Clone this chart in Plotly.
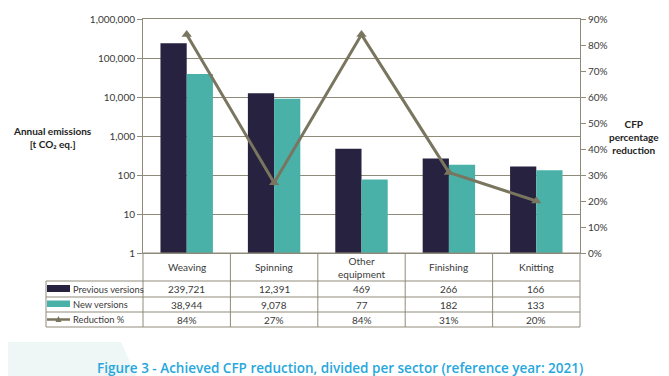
import plotly.graph_objects as go

categories = ["Weaving", "Spinning", "Other<br>equipment", "Finishing", "Knitting"]
previous_versions = [239721, 12391, 469, 266, 166]
new_versions = [38944, 9078, 77, 182, 133]
reduction_pct = [0.84, 0.27, 0.84, 0.31, 0.20]
left_ticks = [1, 10, 100, 1000, 10000, 100000, 1000000]
series_names = ["Previous versions", "New versions", "Reduction %"]

# page body has an 8px default margin; coordinates below are window pixels
OFF = 8
WIN_W, WIN_H = 669, 376
W, H = WIN_W - OFF, WIN_H - OFF
L, R, T, B = 143, 580, 19, 253
PW, PH = R - L, B - T

def px(x):
    return (x - L) / PW

def py(y):
    return (B - y) / PH

DARK = "#26223f"
TEAL = "#4ab1a9"
LINEC = "#79755f"
GRID = "#8f8b7b"
TXT = "#3a3a3a"
FONT = "Lato, Carlito, Calibri, sans-serif"

fig = go.Figure()
fig.add_trace(go.Bar(x=categories, y=previous_versions, name=series_names[0],
                     marker=dict(color=DARK, line=dict(width=0))))
fig.add_trace(go.Bar(x=categories, y=new_versions, name=series_names[1],
                     marker=dict(color=TEAL, line=dict(width=0))))
fig.add_trace(go.Scatter(x=categories, y=reduction_pct, name=series_names[2], yaxis="y2",
                         mode="lines+markers",
                         line=dict(color=LINEC, width=3),
                         marker=dict(symbol="triangle-up", size=9, color=LINEC)))

shapes = []
annotations = []

def label(x, y, text, size=10, color=TXT, xanchor="center", family=FONT, weight=None):
    f = dict(family=family, size=size, color=color)
    if weight:
        f["weight"] = weight
    annotations.append(dict(x=px(x), y=py(y), xref="paper", yref="paper", text=text,
                            showarrow=False, xanchor=xanchor, yanchor="middle", font=f))

# table geometry
col_w = PW / len(categories)
row_y = [B, 281, 297, 312, 327]
TL = 46
line = dict(color=GRID, width=1)
shapes.append(dict(type="line", xref="paper", yref="paper", x0=px(L), x1=px(R), y0=py(row_y[0]), y1=py(row_y[0]), line=line))
for yy in row_y[1:]:
    shapes.append(dict(type="line", xref="paper", yref="paper", x0=px(TL), x1=px(R), y0=py(yy), y1=py(yy), line=line))
for i in range(len(categories) + 1):
    xx = L + i * col_w
    shapes.append(dict(type="line", xref="paper", yref="paper", x0=px(xx), x1=px(xx), y0=py(row_y[0]), y1=py(row_y[-1]), line=line))
shapes.append(dict(type="line", xref="paper", yref="paper", x0=px(TL), x1=px(TL), y0=py(row_y[1]), y1=py(row_y[-1]), line=line))

rows = [
    [f"{v:,}" for v in previous_versions],
    [f"{v:,}" for v in new_versions],
    [f"{v:.0%}" for v in reduction_pct],
]
for i, cat in enumerate(categories):
    cx = L + (i + 0.5) * col_w
    label(cx, (row_y[0] + row_y[1]) / 2, cat)
    for r in range(3):
        label(cx, (row_y[r + 1] + row_y[r + 2]) / 2, rows[r][i])

for r in range(3):
    label(70.5, (row_y[r + 1] + row_y[r + 2]) / 2, series_names[r], xanchor="left", size=9.3)
shapes.append(dict(type="rect", xref="paper", yref="paper", x0=px(47), x1=px(70), y0=py(285), y1=py(292), fillcolor=DARK, line=dict(width=0)))
shapes.append(dict(type="rect", xref="paper", yref="paper", x0=px(47), x1=px(70), y0=py(300.5), y1=py(307), fillcolor=TEAL, line=dict(width=0)))
shapes.append(dict(type="line", xref="paper", yref="paper", x0=px(47), x1=px(70), y0=py(319.5), y1=py(319.5), line=dict(color=LINEC, width=2.5)))
shapes.append(dict(type="path", xref="paper", yref="paper",
                   path=f"M {px(55.5)} {py(322)} L {px(61.5)} {py(322)} L {px(58.5)} {py(316)} Z",
                   fillcolor=LINEC, line=dict(width=0)))

# bottom-left tint
shapes.append(dict(type="path", xref="paper", yref="paper",
                   path=f"M {px(0)} {py(342)} L {px(121)} {py(342)} L {px(136)} {py(376)} L {px(0)} {py(376)} Z",
                   fillcolor="#eef6f6", line=dict(width=0), layer="below"))

# axis titles
label(52, 137, "<b>Annual emissions</b><br><b>[t CO₂ eq.]</b>", color="#222")
label(634, 137, "<b>CFP</b><br><b>percentage</b><br><b>reduction</b>", color="#222")
# caption
label(340, 368, "Figure 3 - Achieved CFP reduction, divided per sector (reference year: 2021)",
      size=13.5, color="#27a7dc", family="Open Sans, sans-serif", weight=600)

fig.update_layout(
    width=W, height=H,
    margin=dict(l=L - OFF, r=WIN_W - R, t=T - OFF, b=WIN_H - B, pad=0, autoexpand=False),
    paper_bgcolor="white", plot_bgcolor="white",
    showlegend=False,
    barmode="group", bargap=0.4, bargroupgap=0,
    font=dict(family=FONT, size=10, color=TXT),
    xaxis=dict(showticklabels=False, showgrid=False, ticks="", showline=True,
               linecolor=GRID, linewidth=1, mirror=True, zeroline=False),
    yaxis=dict(type="log", range=[0, 6], tickvals=left_ticks,
               ticktext=[f"{v:,}" for v in left_ticks],
               showgrid=True, gridcolor=GRID, gridwidth=1,
               showline=True, linecolor=GRID, linewidth=1,
               ticks="outside", ticklen=5, tickcolor=GRID,
               tickfont=dict(family=FONT, size=10, color=TXT), zeroline=False),
    yaxis2=dict(overlaying="y", side="right", range=[0, 0.9], dtick=0.1, tickformat=".0%",
                showgrid=False, showline=True, linecolor=GRID, linewidth=1,
                ticks="outside", ticklen=5, tickcolor=GRID,
                tickfont=dict(family=FONT, size=10, color=TXT), zeroline=False),
    shapes=shapes, annotations=annotations,
)

fig.write_html("out.html")
